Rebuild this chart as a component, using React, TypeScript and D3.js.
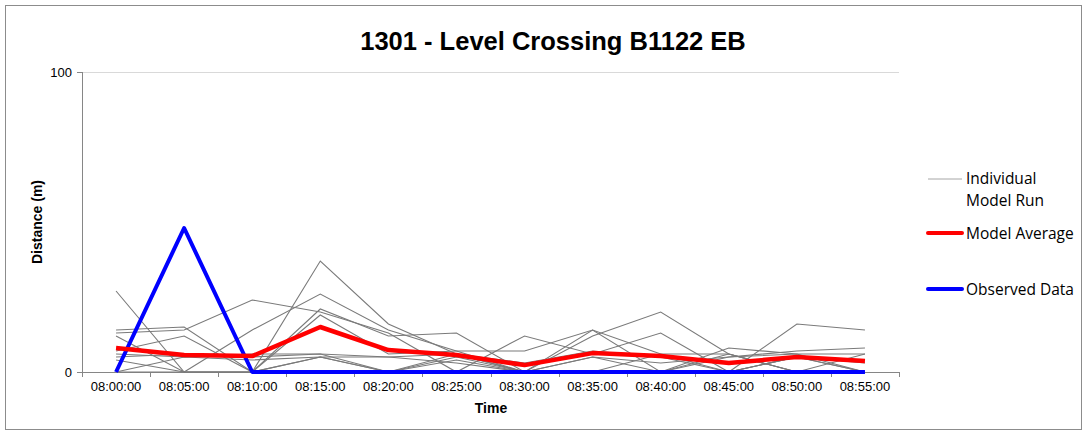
import React from "react";
import * as d3 from "d3";

const times = ["08:00:00","08:05:00","08:10:00","08:15:00","08:20:00","08:25:00","08:30:00","08:35:00","08:40:00","08:45:00","08:50:00","08:55:00"];

const run1 = [27, 0, 14, 26, 14, 7, 0, 14, 6, 0, 5, 0];
const run2 = [14, 15, 0, 37, 16, 6, 0, 12, 20, 6, 0, 6];
const run3 = [13, 14, 24, 20, 13, 0, 12, 6, 13, 0, 16, 14];
const run4 = [12, 0, 0, 21, 12, 13, 0, 5, 0, 8, 6, 6];
const run5 = [7, 12, 0, 19, 6, 7, 7, 14, 0, 5, 7, 8];
const run6 = [6, 5, 6, 6, 5, 6, 3, 7, 5, 0, 5, 3];
const run7 = [5, 6, 5, 6, 0, 5, 0, 0, 6, 6, 0, 0];
const run8 = [4, 0, 0, 5, 0, 4, 0, 5, 3, 5, 6, 0];
const run9 = [0, 0, 0, 5, 5, 3, 0, 0, 0, 0, 5, 0];
const run10 = [0, 5, 4, 5, 0, 6, 0, 0, 0, 6, 0, 0];
const runs = [run1, run2, run3, run4, run5, run6, run7, run8, run9, run10];

const modelAverage = [8, 5.7, 5.3, 15, 7.3, 5.7, 2.3, 6.3, 5.3, 3, 5, 3.7];
const observed = [0, 48, 0, 0, 0, 0, 0, 0, 0, 0, 0, 0];

const yTicks = [0, 100];

const title = "1301 - Level Crossing B1122 EB";

export default function App() {
  const W = 1088, H = 435;
  const left = 82, right = 899, top = 72, bottom = 372;
  const x = d3.scaleBand<string>().domain(times).range([left, right]);
  const y = d3.scaleLinear().domain([0, 100]).range([bottom, top]);
  const cx = (i: number) => (x(times[i]) as number) + x.bandwidth() / 2;
  const line = d3.line<number>().x((_, i) => cx(i)).y((d) => y(d));
  const boundaries = times.map((t) => x(t) as number).concat([right]);
  const font = "'Liberation Sans', Arial, sans-serif";
  const legFont = "'Open Sans', 'Noto Sans', sans-serif";

  return (
    <div style={{ position: "absolute", left: 0, top: 0 }}>
      <svg width={W} height={H} style={{ display: "block" }}>
        <rect x={0} y={0} width={W} height={H} fill="#fff" />
        <rect x={5.5} y={5.5} width={1076} height={424} fill="none" stroke="#8c8c8c" strokeWidth={1} />
        <text x={553} y={50} textAnchor="middle" fontFamily={font} fontWeight="bold" fontSize={25.5}>{title}</text>
        {yTicks.filter((t) => t > 0).map((t) => (
          <line key={t} x1={left} x2={right} y1={y(t) + 0.5} y2={y(t) + 0.5} stroke="#d9d9d9" />
        ))}
        <line x1={left + 0.5} x2={left + 0.5} y1={top} y2={bottom} stroke="#868686" />
        {yTicks.map((t) => (
          <g key={t}>
            <line x1={left - 5} x2={left} y1={y(t) + 0.5} y2={y(t) + 0.5} stroke="#868686" />
            <text x={left - 10} y={y(t) + 4.5} textAnchor="end" fontFamily={font} fontSize={13}>{t}</text>
          </g>
        ))}
        <line x1={left} x2={right} y1={bottom + 0.5} y2={bottom + 0.5} stroke="#868686" />
        {boundaries.map((b, i) => (
          <line key={i} x1={Math.round(b) + 0.5} x2={Math.round(b) + 0.5} y1={bottom} y2={bottom + 5} stroke="#868686" />
        ))}
        {times.map((t, i) => (
          <text key={t} x={cx(i)} y={391} textAnchor="middle" fontFamily={font} fontSize={13}>{t}</text>
        ))}
        <text x={491} y={413} textAnchor="middle" fontFamily={font} fontWeight="bold" fontSize={14}>Time</text>
        <text transform="translate(42,222) rotate(-90)" textAnchor="middle" fontFamily={font} fontWeight="bold" fontSize={14}>Distance (m)</text>
        {runs.map((r, k) => (
          <path key={k} d={line(r) || ""} fill="none" stroke="#7a7a7a" strokeWidth={1.1} />
        ))}
        <path d={line(observed) || ""} fill="none" stroke="#0000ff" strokeWidth={4} strokeLinejoin="round" />
        <path d={line(modelAverage) || ""} fill="none" stroke="#ff0000" strokeWidth={4.5} strokeLinejoin="round" />
        <line x1={928} x2={962} y1={179} y2={179} stroke="#a6a6a6" strokeWidth={1} />
        <text x={966} y={184} fontFamily={legFont} fontSize={15.5}>Individual</text>
        <text x={966} y={206} fontFamily={legFont} fontSize={15.5}>Model Run</text>
        <line x1={928} x2={962} y1={233} y2={233} stroke="#ff0000" strokeWidth={4} strokeLinecap="round" />
        <text x={966} y={239} fontFamily={legFont} fontSize={15.5}>Model Average</text>
        <line x1={928} x2={962} y1={289} y2={289} stroke="#0000ff" strokeWidth={4} strokeLinecap="round" />
        <text x={966} y={295} fontFamily={legFont} fontSize={15.5}>Observed Data</text>
      </svg>
    </div>
  );
}
